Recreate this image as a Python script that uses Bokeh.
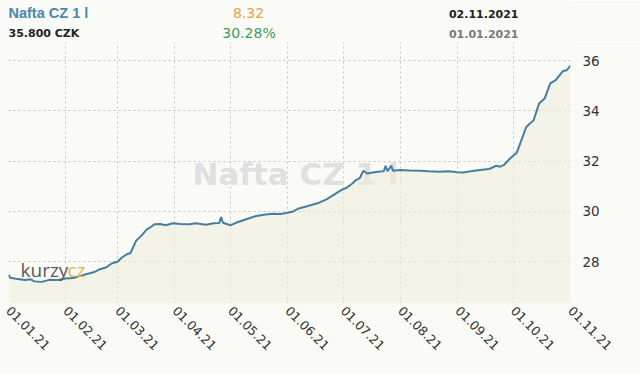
import pandas as pd
from bokeh.plotting import figure
from bokeh.layouts import column
from bokeh.models import Label, Range1d, FixedTicker, DatetimeTickFormatter
from bokeh.embed import file_html
from bokeh.resources import INLINE

# ---------------- data ----------------
dates = ["2021-01-01", "2021-01-02", "2021-01-05", "2021-01-10", "2021-01-13", "2021-01-15",
         "2021-01-19", "2021-01-23", "2021-01-27", "2021-02-01", "2021-02-05", "2021-02-08",
         "2021-02-12", "2021-02-16", "2021-02-19", "2021-02-23", "2021-02-26", "2021-03-01",
         "2021-03-03", "2021-03-06", "2021-03-08", "2021-03-11", "2021-03-14", "2021-03-17",
         "2021-03-19", "2021-03-21", "2021-03-24", "2021-03-27", "2021-03-31", "2021-04-04",
         "2021-04-09", "2021-04-12", "2021-04-14", "2021-04-18", "2021-04-22", "2021-04-25",
         "2021-04-26", "2021-04-27", "2021-05-01", "2021-05-04", "2021-05-08", "2021-05-10",
         "2021-05-15", "2021-05-20", "2021-05-24", "2021-05-28", "2021-06-01", "2021-06-04",
         "2021-06-07", "2021-06-12", "2021-06-18", "2021-06-22", "2021-06-25", "2021-06-30",
         "2021-07-03", "2021-07-06", "2021-07-08", "2021-07-10", "2021-07-12", "2021-07-14",
         "2021-07-17", "2021-07-21", "2021-07-23", "2021-07-24", "2021-07-25", "2021-07-27",
         "2021-07-28", "2021-08-01", "2021-08-06", "2021-08-12", "2021-08-16", "2021-08-22",
         "2021-08-27", "2021-09-01", "2021-09-04", "2021-09-08", "2021-09-13", "2021-09-18",
         "2021-09-22", "2021-09-24", "2021-09-26", "2021-09-29", "2021-10-03", "2021-10-06",
         "2021-10-08", "2021-10-10", "2021-10-12", "2021-10-15", "2021-10-18", "2021-10-21",
         "2021-10-24", "2021-10-28", "2021-10-30", "2021-11-01"]
prices = [27.48, 27.36, 27.32, 27.27, 27.30, 27.22,
          27.20, 27.28, 27.27, 27.33, 27.35, 27.42,
          27.50, 27.58, 27.69, 27.78, 27.94, 28.00,
          28.15, 28.30, 28.35, 28.83, 29.05, 29.30,
          29.38, 29.49, 29.50, 29.45, 29.53, 29.50,
          29.49, 29.53, 29.51, 29.47, 29.53, 29.54,
          29.78, 29.55, 29.45, 29.55, 29.65, 29.70,
          29.82, 29.88, 29.91, 29.90, 29.95, 30.00,
          30.12, 30.22, 30.35, 30.48, 30.62, 30.85,
          30.95, 31.11, 31.25, 31.33, 31.62, 31.51,
          31.55, 31.59, 31.60, 31.82, 31.60, 31.82,
          31.62, 31.65, 31.63, 31.62, 31.60, 31.58,
          31.60, 31.56, 31.55, 31.60, 31.65, 31.69,
          31.82, 31.78, 31.85, 32.09, 32.35, 32.95,
          33.35, 33.50, 33.62, 34.29, 34.49, 35.09,
          35.22, 35.59, 35.62, 35.80]
month_ticks = ["2021-01-01", "2021-02-01", "2021-03-01", "2021-04-01", "2021-05-01", "2021-06-01",
               "2021-07-01", "2021-08-01", "2021-09-01", "2021-10-01", "2021-11-01"]
y_ticks = [28, 30, 32, 34, 36]
y_start, y_end = 26.34, 36.72

title_text = "Nafta CZ 1 l"
price_text = "35.800 CZK"
change_text = "8.32"
change_pct_text = "30.28%"
date_to_text = "02.11.2021"
date_from_text = "01.01.2021"

BG = "#fafaf6"

# ---------------- header ----------------
h = figure(width=640, height=42, output_backend="svg", toolbar_location=None,
           x_axis_location=None, y_axis_location=None,
           x_range=Range1d(0, 640), y_range=Range1d(0, 42),
           min_border=0, min_border_left=0, min_border_right=0,
           min_border_top=0, min_border_bottom=0)
h.grid.visible = False
h.outline_line_color = None
h.background_fill_color = BG
h.border_fill_color = BG


def hdr(xx, yy, txt, color, size, bold, align, font="DejaVu Sans"):
    h.add_layout(Label(x=xx, y=yy, x_units="screen", y_units="screen", text=txt,
                       text_font=font, text_font_size=size,
                       text_font_style="bold" if bold else "normal",
                       text_color=color, text_align=align, text_baseline="middle"))


hdr(0, 29.5, title_text, "#4a88b0", "14.5px", True, "left", "Liberation Sans")
hdr(0, 9.5, price_text, "#222222", "11px", True, "left")
hdr(240, 29.5, change_text, "#e6a23c", "14px", False, "center")
hdr(240.5, 9.5, change_pct_text, "#3c9e5a", "14px", False, "center")
hdr(510, 28.5, date_to_text, "#222222", "11px", True, "right")
hdr(510, 9, date_from_text, "#7a7a7a", "11px", True, "right")

# ---------------- chart ----------------
x = pd.to_datetime(dates)
tick_ms = [pd.Timestamp(d).value // 10**6 for d in month_ticks]

p = figure(width=640, height=332, output_backend="svg", toolbar_location=None,
           x_axis_type="datetime", y_axis_location="right",
           x_range=Range1d(pd.Timestamp(month_ticks[0]), pd.Timestamp(month_ticks[-1])),
           y_range=Range1d(y_start, y_end),
           min_border_left=8, min_border_right=70, min_border_top=0, min_border_bottom=71)
p.background_fill_color = BG
p.border_fill_color = BG
p.outline_line_color = None

# watermark (under the fill)
p.add_layout(Label(x=184, y=130, x_units="screen", y_units="screen", text=title_text,
                   text_font="DejaVu Sans", text_font_style="bold", text_font_size="31px",
                   text_color="#e0e0e0", text_baseline="middle", level="underlay"))

p.varea(x=x, y1=y_start, y2=prices, fill_color="#eeefe0", fill_alpha=0.6)
p.line(x=x, y=prices, line_color="#457ea0", line_width=2)

# axes
p.xaxis.ticker = FixedTicker(ticks=tick_ms)
p.xaxis.formatter = DatetimeTickFormatter(months="%d.%m.%y", days="%d.%m.%y",
                                          years="%d.%m.%y")
p.yaxis.ticker = FixedTicker(ticks=y_ticks)
for ax in (p.xaxis[0], p.yaxis[0]):
    ax.axis_line_color = None
    ax.major_tick_line_color = None
    ax.minor_tick_line_color = None
    ax.major_tick_out = 0
    ax.major_tick_in = 0
    ax.major_label_text_font = "DejaVu Sans"
    ax.major_label_text_color = "#333333"
p.xaxis.major_label_orientation = -0.785398
p.xaxis.major_label_text_font_size = "12.5px"
p.xaxis.major_label_standoff = 5
p.yaxis.major_label_text_font_size = "13.5px"
p.yaxis.major_label_standoff = 12

p.xgrid.ticker = FixedTicker(ticks=tick_ms)
p.ygrid.ticker = FixedTicker(ticks=y_ticks)
for g in (p.xgrid[0], p.ygrid[0]):
    g.grid_line_color = "#c4c4c4"
    g.grid_line_dash = "2 3"
    g.grid_line_width = 1

# logo
p.add_layout(Label(x=12, y=34, x_units="screen", y_units="screen", text="kurzy",
                   text_font="Open Sans", text_font_size="19px", text_color="#5a5a5a",
                   text_baseline="alphabetic"))
p.add_layout(Label(x=59, y=34, x_units="screen", y_units="screen", text="cz",
                   text_font="Open Sans", text_font_size="19px", text_color="#e8b44c",
                   text_baseline="alphabetic"))

layout = column(h, p, spacing=0)
open("out.html", "w").write(file_html(layout, INLINE))
